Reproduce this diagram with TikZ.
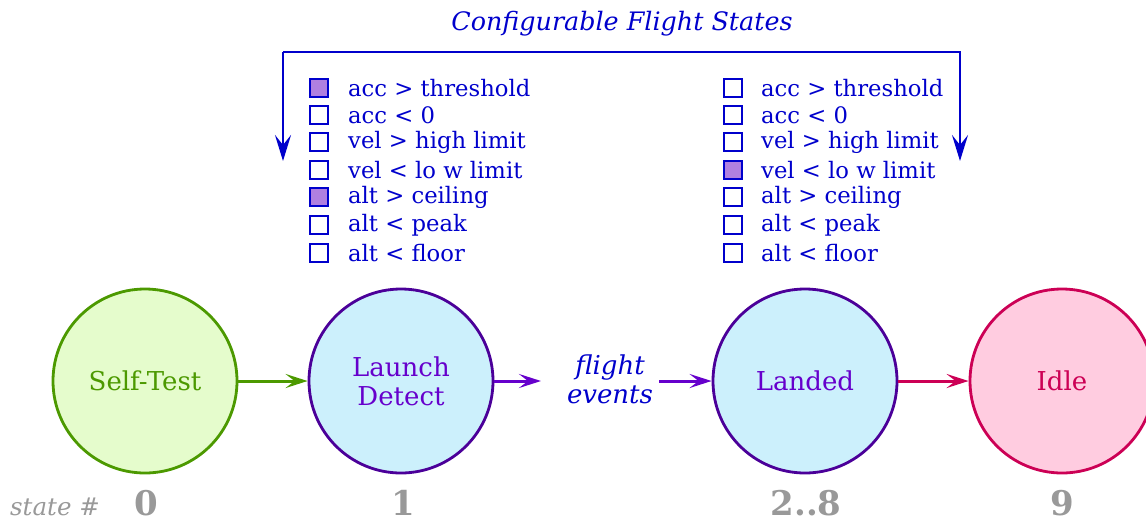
\documentclass[tikz,border=0pt]{standalone}
\usepackage{fontspec}
\setmainfont{DejaVu Serif}
\usetikzlibrary{arrows.meta}
\definecolor{cblue}{HTML}{0000CC}
\definecolor{cpurp}{HTML}{B080E0}
\definecolor{ggreen}{HTML}{4C9900}
\definecolor{gfill}{HTML}{E5FCCC}
\definecolor{lviol}{HTML}{4B0099}
\definecolor{ltext}{HTML}{6600CC}
\definecolor{lfill}{HTML}{CCF0FC}
\definecolor{rred}{HTML}{CC0055}
\definecolor{rfill}{HTML}{FFCCE0}
\definecolor{sgray}{HTML}{999999}
\tikzset{
  x=1pt, y=-1pt,
  tip/.style={-{Stealth[length=22pt,width=14pt,inset=9pt]}},
  bigtip/.style={-{Stealth[length=26pt,width=16pt,inset=10pt]}},
  state/.style={circle, minimum size=184pt, inner sep=0pt, line width=2.8pt, font=\fontsize{26}{30}\selectfont},
  conn/.style={tip, line width=3pt},
  cbox/.style={draw=cblue, line width=2.8pt, minimum size=18pt, inner sep=0pt, fill=white},
  cboxon/.style={cbox, fill=cpurp},
  ctext/.style={anchor=west, inner sep=0pt, text=cblue, font=\fontsize{22.7}{24}\selectfont},
  snum/.style={anchor=base, inner sep=0pt, text=sgray, font=\fontsize{34}{36}\selectfont\bfseries},
}
\begin{document}
\begin{tikzpicture}
\useasboundingbox (0,0) rectangle (1146,523);

% title and bracket
\node[text=cblue, font=\fontsize{25.4}{28}\selectfont\itshape] (title) at (622,24) {Configurable Flight States};
\coordinate (bl) at (283,161);
\coordinate (br) at (960,161);
\draw[cblue, line width=2.8pt, bigtip] (283,52) -- (960,52) -- (br);
\draw[cblue, line width=2.8pt, bigtip] (283,52) -- (bl);

% left checklist
\foreach \y/\t/\f [count=\i] in {88/{acc > threshold}/cboxon, 115/{acc < 0}/cbox, 142/{vel > high limit}/cbox, 170/{vel < lo w limit}/cbox, 197/{alt > ceiling}/cboxon, 225/{alt < peak}/cbox, 253/{alt < floor}/cbox}{
  \node[\f] (lb\i) at (319,\y) {};
  \node[ctext] (lt\i) at (348,\y) {\t};
}
% right checklist
\foreach \y/\t/\f [count=\i] in {88/{acc > threshold}/cbox, 115/{acc < 0}/cbox, 142/{vel > high limit}/cbox, 170/{vel < lo w limit}/cboxon, 197/{alt > ceiling}/cbox, 225/{alt < peak}/cbox, 253/{alt < floor}/cbox}{
  \node[\f] (rb\i) at (733,\y) {};
  \node[ctext] (rt\i) at (761,\y) {\t};
}

% states
\node[state, draw=ggreen, fill=gfill, text=ggreen] (self) at (145,381) {Self-Test};
\node[state, draw=lviol, fill=lfill, text=ltext, align=center, font=\fontsize{26}{29}\selectfont] (launch) at (401,381) {Launch\\Detect};
\node[state, draw=lviol, fill=lfill, text=ltext] (landed) at (805,381) {Landed};
\node[state, draw=rred, fill=rfill, text=rred] (idle) at (1062,381) {Idle};

\node[text=cblue, align=center, font=\fontsize{26}{29}\selectfont\itshape] (events) at (610,379) {flight\\events};
\coordinate (evin) at (541,381);
\coordinate (evout) at (659,381);

\draw[conn, ggreen] (self.east) -- (launch.west);
\draw[conn, ltext] (launch.east) -- (evin);
\draw[conn, ltext] (evout) -- (landed.west);
\draw[conn, rred] (landed.east) -- (idle.west);

% state numbers
\node[anchor=base, inner sep=0pt, text=sgray, font=\fontsize{24.5}{26}\selectfont\itshape] (slabel) at (55,515) {state \#};
\node[snum] (n0) at (146,515) {0};
\node[snum] (n1) at (403,515) {1};
\node[snum] (n2) at (806,515) {2..8};
\node[snum] (n9) at (1062,515) {9};
\end{tikzpicture}
\end{document}
